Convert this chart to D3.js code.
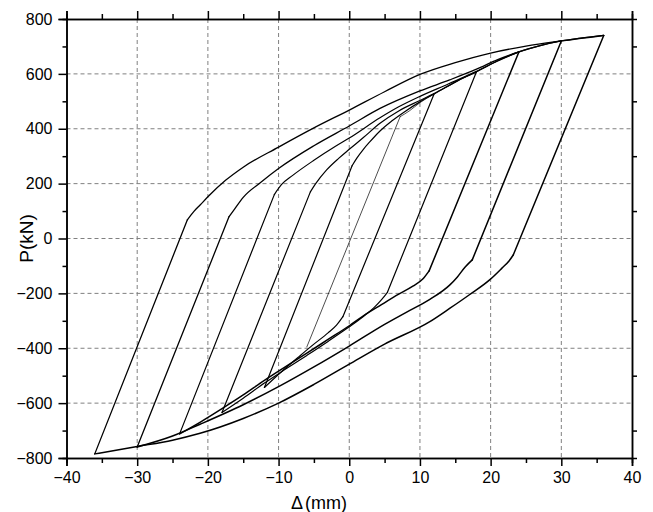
<!DOCTYPE html>
<html>
<head>
<meta charset="utf-8">
<script src="https://cdn.jsdelivr.net/npm/d3@7"></script>
<style>
  body { margin: 0; background: #fff; }
  text { font-family: Arial, "Liberation Sans", sans-serif; fill: #000; }
</style>
</head>
<body>
<svg id="chart" width="653" height="512"></svg>
<script>
// Axis ticks
const xMajor = [-40, -30, -20, -10, 0, 10, 20, 30, 40];
const xMinor = [-35, -25, -15, -5, 5, 15, 25, 35];
const yMajor = [-800, -600, -400, -200, 0, 200, 400, 600, 800];
const yMinor = [-700, -500, -300, -100, 100, 300, 500, 700];

// Each branch: reversal point, end of the elastic (straight) part, then the curved part.
// Values are [Δ (mm), P (kN)].
const up6   = [[-6,-395],[7.2,444],[8.5,465],[10,495],[12,527]];
const up12  = [[-12,-543],[0.4,265],[1.05,292],[2,325],[2.9,352],[4.35,392],[6,428],[8,465],[10,498],[12,527],[14,556],[16,584],[18,608]];
const up18  = [[-18,-634],[-5.5,170],[-4.8,198],[-3.2,250],[-1.5,292],[0,325],[2,368],[4.35,420],[7,465],[10,503],[12,528],[15,570],[18,608],[21,648],[24,680]];
const up24  = [[-24,-712],[-10.6,160],[-9.6,196],[-8,230],[-5,285],[-2,335],[0,366],[4.35,440],[7,480],[10,518],[14,563],[18,609],[21,647],[24,680],[27,703],[30,720]];
const up30  = [[-30,-760],[-17,80],[-16.2,108],[-15,150],[-12.5,205],[-10,255],[-5,338],[0,410],[4.35,474],[10,538],[14.2,578],[18,617],[21,652],[24,680],[27,703],[30,720],[33,731],[36,740]];
const up36  = [[-36,-785],[-22.9,68],[-22,98],[-21.1,122],[-20,152],[-17.5,212],[-15,260],[-10,333],[-5,403],[0,468],[5,535],[10,598],[15,641],[20,676],[25,701],[30,720],[36,740]];

const down12 = [[12,527],[-0.9,-285],[-1.8,-316],[-3,-344],[-5,-385],[-7,-428],[-9,-472],[-12,-543]];
const down18 = [[18,608],[5.4,-196],[4.6,-222],[3.5,-252],[2,-284],[0,-322],[-3,-375],[-6,-426],[-9,-476],[-12,-527],[-15,-582],[-18,-634]];
const down24 = [[24,680],[11.3,-118],[10.4,-148],[9,-174],[7,-203],[4.5,-242],[2,-282],[0,-318],[-3,-368],[-6,-418],[-9,-467],[-12,-517],[-15,-570],[-18,-620],[-21,-668],[-24,-712]];
const down30 = [[30,720],[17.4,-78],[16.4,-104],[15.3,-140],[14.2,-170],[11.4,-222],[8,-270],[5,-313],[0,-392],[-5,-468],[-10,-540],[-15,-606],[-21.1,-677],[-25,-720],[-30,-760]];
const down36 = [[36,740],[23.2,-60],[22.6,-82],[21.6,-108],[19.9,-150],[17,-205],[14.2,-255],[11.4,-303],[5,-385],[0,-458],[-5,-532],[-10,-600],[-15,-656],[-21.1,-710],[-25,-735],[-30,-758],[-36,-785]];

const branches = [
  { pts: up6, w: 0.7 },
  { pts: up12, w: 1.2 }, { pts: down12, w: 1.2 },
  { pts: up18, w: 1.2 }, { pts: down18, w: 1.2 },
  { pts: up24, w: 1.2 }, { pts: down24, w: 1.5 },
  { pts: up30, w: 1.3 }, { pts: down30, w: 1.5 },
  { pts: up36, w: 1.3 }, { pts: down36, w: 1.5 }
];

const m = { left: 66.5, right: 632, top: 19, bottom: 458 };

const x = d3.scaleLinear().domain([-40, 40]).range([m.left, m.right]);
const y = d3.scaleLinear().domain([-800, 800]).range([m.bottom, m.top]);

const svg = d3.select("#chart");

// dashed grid at the interior major ticks
const grid = svg.append("g").attr("stroke", "#808080").attr("stroke-width", 1)
  .attr("stroke-dasharray", "4,3");
grid.selectAll("line.gx").data(xMajor.slice(1, -1)).join("line")
  .attr("x1", d => x(d)).attr("x2", d => x(d))
  .attr("y1", m.top).attr("y2", m.bottom);
grid.selectAll("line.gy").data(yMajor.slice(1, -1)).join("line")
  .attr("y1", d => y(d)).attr("y2", d => y(d))
  .attr("x1", m.left).attr("x2", m.right);

// hysteresis branches: straight elastic part, then a smooth curve
const straight = d3.line().x(d => x(d[0])).y(d => y(d[1]));
const smooth = d3.line().x(d => x(d[0])).y(d => y(d[1])).curve(d3.curveMonotoneX);
const curves = svg.append("g").attr("fill", "none").attr("stroke", "#000")
  .attr("stroke-linejoin", "round").attr("stroke-linecap", "round");
branches.forEach(b => {
  const seg = b.pts.slice(0, 2);
  const rest = b.pts.slice(1);
  const sorted = rest.slice().sort((a, c) => a[0] - c[0]);
  curves.append("path").attr("d", straight(seg)).attr("stroke-width", b.w);
  curves.append("path").attr("d", smooth(sorted)).attr("stroke-width", b.w);
});

// axes
function styleAxis(g) {
  g.select(".domain").attr("stroke", "#000").attr("stroke-width", 1.5);
  g.selectAll(".tick line").attr("stroke", "#000").attr("stroke-width", 1.5);
  g.selectAll(".tick text").attr("font-size", 16).attr("fill", "#000")
    .attr("font-family", "Arial, 'Liberation Sans', sans-serif");
}

svg.append("g").attr("transform", `translate(0,${m.bottom})`)
  .call(d3.axisBottom(x).tickValues(xMajor).tickSize(8).tickPadding(6).tickFormat(d3.format("d")))
  .call(styleAxis);
svg.append("g").attr("transform", `translate(0,${m.bottom})`)
  .call(d3.axisBottom(x).tickValues(xMinor).tickSize(5).tickFormat(""))
  .call(styleAxis);
svg.append("g").attr("transform", `translate(0,${m.top})`)
  .call(d3.axisTop(x).tickValues(xMajor).tickSize(8).tickFormat(""))
  .call(styleAxis);
svg.append("g").attr("transform", `translate(0,${m.top})`)
  .call(d3.axisTop(x).tickValues(xMinor).tickSize(5).tickFormat(""))
  .call(styleAxis);
svg.append("g").attr("transform", `translate(${m.left},0)`)
  .call(d3.axisLeft(y).tickValues(yMajor).tickSize(8).tickPadding(6).tickFormat(d3.format("d")))
  .call(styleAxis);
svg.append("g").attr("transform", `translate(${m.left},0)`)
  .call(d3.axisLeft(y).tickValues(yMinor).tickSize(4).tickFormat(""))
  .call(styleAxis);
svg.append("g").attr("transform", `translate(${m.right},0)`)
  .call(d3.axisRight(y).tickValues(yMinor).tickSize(5).tickFormat(""))
  .call(styleAxis);
svg.append("g").attr("transform", `translate(${m.right},0)`)
  .call(d3.axisRight(y).tickValues(yMajor).tickSize(0).tickFormat(""))
  .call(styleAxis);

// axis titles
const xTitle = svg.append("text").attr("x", 291).attr("y", 509).attr("font-size", 18);
xTitle.append("tspan").text("Δ");
xTitle.append("tspan").attr("dx", 2).text("(mm)");
svg.append("text").attr("transform", "translate(33,238.5) rotate(-90)")
  .attr("text-anchor", "middle").attr("font-size", 19).text("P(kN)");
</script>
</body>
</html>
